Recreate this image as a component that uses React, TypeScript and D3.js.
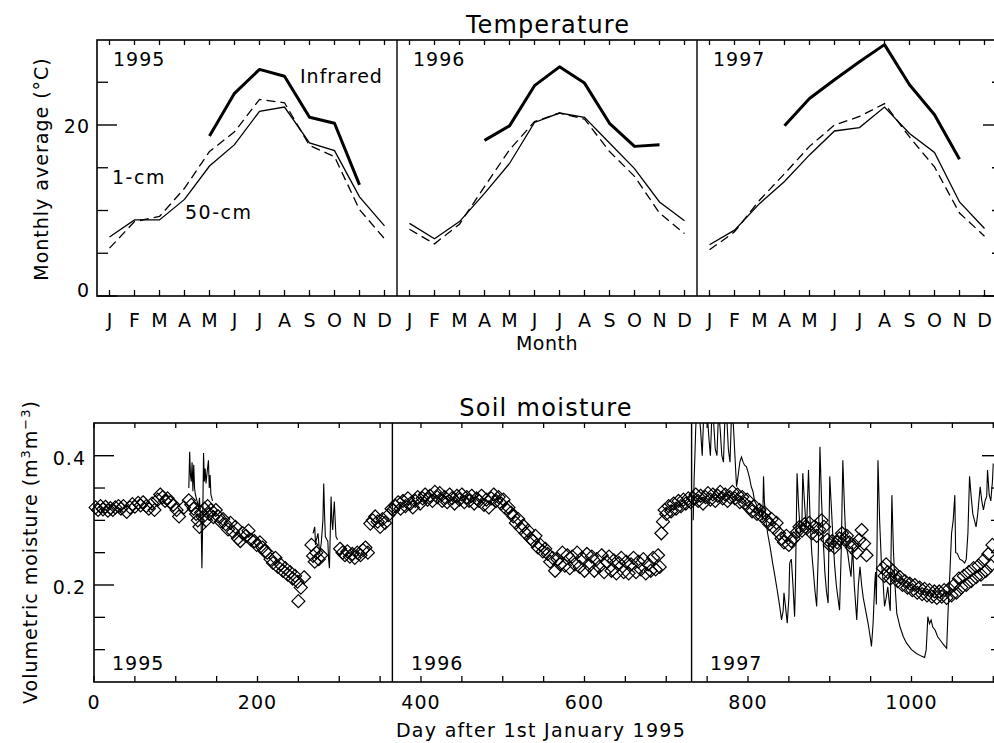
import React from 'react';
import * as d3 from 'd3';

// ---------- Temperature data (monthly averages, °C) ----------
const months = ['J', 'F', 'M', 'A', 'M', 'J', 'J', 'A', 'S', 'O', 'N', 'D'];
const years = ['1995', '1996', '1997'];

const temp50cm: (number | null)[] = [
  6.9, 8.9, 8.9, 11.3, 15.2, 17.7, 21.6, 22.1, 17.9, 17.0, 11.6, 8.2,
  8.5, 6.7, 8.7, 12.0, 15.5, 20.3, 21.4, 20.9, 17.9, 14.9, 11.0, 8.8,
  6.0, 7.7, 10.8, 13.4, 16.5, 19.3, 19.7, 22.1, 19.0, 16.8, 11.0, 7.9,
];
const temp1cm: (number | null)[] = [
  5.6, 8.7, 9.3, 12.6, 16.9, 19.2, 23.0, 22.6, 17.6, 16.3, 10.1, 6.7,
  7.8, 6.1, 8.4, 12.8, 17.1, 20.4, 21.4, 20.7, 16.9, 14.0, 9.7, 7.3,
  5.4, 7.5, 11.2, 14.3, 17.5, 20.0, 21.0, 22.5, 18.6, 15.1, 9.7, 7.0,
];
const tempInfrared: (number | null)[] = [
  null, null, null, null, 18.7, 23.7, 26.5, 25.7, 20.9, 20.2, 13.0, null,
  null, null, null, 18.2, 19.9, 24.6, 26.8, 24.9, 20.2, 17.5, 17.7, null,
  null, null, null, 19.9, 23.1, 25.3, 27.4, 29.4, 24.7, 21.2, 16.0, null,
];
const tempYMajor = [0, 20];
const tempYMinor = [5, 10, 15, 25];

// ---------- Soil moisture data ----------
const soilDiamonds: [number, number][] = [
  [2,0.320],[5,0.316],[8,0.322],[11,0.317],[14,0.321],[17,0.315],[20,0.319],[23,0.316],[26,0.320],[30,0.322],
  [33,0.318],[36,0.322],[40,0.313],[44,0.320],[47,0.325],[50,0.321],[54,0.327],[57,0.323],[60,0.328],[64,0.322],
  [67,0.318],[71,0.326],[74,0.316],[78,0.332],[81,0.340],[84,0.336],[87,0.330],[90,0.334],[93,0.328],[97,0.324],
  [101,0.316],[104,0.306],[110,0.320],[116,0.331],[119,0.324],[122,0.318],[125,0.310],[127,0.300],[129,0.290],[131,0.312],
  [133,0.305],[135,0.318],[137,0.300],[139,0.322],[141,0.310],[143,0.316],[146,0.305],[149,0.316],[152,0.306],[155,0.298],
  [158,0.302],[161,0.294],[164,0.286],[167,0.296],[170,0.282],[173,0.290],[176,0.272],[179,0.268],[182,0.280],[186,0.276],
  [189,0.284],[192,0.270],[196,0.268],[199,0.262],[203,0.266],[206,0.258],[209,0.252],[212,0.250],[216,0.240],[219,0.234],
  [222,0.242],[225,0.228],[228,0.232],[231,0.222],[234,0.226],[237,0.216],[240,0.220],[243,0.210],[246,0.214],[249,0.205],
  [250,0.175],[253,0.196],[257,0.212],[266,0.262],[268,0.245],[270,0.236],[272,0.250],[275,0.240],[278,0.246],[301,0.256],
  [304,0.250],[307,0.246],[310,0.252],[313,0.244],[316,0.248],[319,0.242],[322,0.250],[326,0.246],[329,0.254],[332,0.258],
  [335,0.250],[338,0.295],[341,0.300],[344,0.306],[347,0.298],[350,0.290],[353,0.302],[356,0.296],[360,0.308],[364,0.318],
  [366,0.316],[369,0.322],[372,0.328],[375,0.318],[378,0.330],[381,0.322],[384,0.334],[387,0.326],[390,0.320],[393,0.330],
  [396,0.336],[399,0.326],[402,0.334],[405,0.340],[408,0.332],[411,0.338],[414,0.330],[417,0.344],[420,0.336],[423,0.342],
  [426,0.330],[429,0.336],[432,0.328],[435,0.340],[438,0.334],[441,0.326],[444,0.338],[447,0.332],[450,0.340],[453,0.328],
  [456,0.336],[459,0.330],[462,0.338],[465,0.326],[468,0.334],[471,0.330],[474,0.338],[477,0.324],[480,0.332],[483,0.320],
  [486,0.334],[489,0.340],[492,0.330],[495,0.336],[498,0.326],[501,0.332],[504,0.318],[507,0.320],[510,0.312],[513,0.306],
  [516,0.296],[519,0.302],[522,0.288],[525,0.292],[528,0.280],[531,0.284],[534,0.272],[537,0.268],[540,0.276],[543,0.258],
  [546,0.262],[549,0.252],[552,0.256],[555,0.248],[558,0.236],[561,0.242],[564,0.222],[567,0.240],[570,0.232],[573,0.250],
  [576,0.230],[579,0.246],[582,0.226],[585,0.244],[588,0.232],[591,0.250],[594,0.228],[597,0.242],[600,0.222],[603,0.248],
  [606,0.230],[609,0.244],[612,0.222],[615,0.240],[618,0.228],[621,0.246],[624,0.220],[627,0.236],[630,0.244],[633,0.222],
  [636,0.238],[639,0.218],[642,0.234],[645,0.242],[648,0.220],[651,0.236],[654,0.218],[657,0.232],[660,0.242],[663,0.220],
  [666,0.236],[669,0.224],[672,0.240],[675,0.218],[678,0.232],[681,0.222],[684,0.242],[687,0.224],[690,0.246],[692,0.228],
  [694,0.280],[696,0.298],[698,0.316],[700,0.310],[703,0.322],[706,0.314],[709,0.326],[712,0.318],[715,0.330],[718,0.322],
  [721,0.332],[724,0.326],[727,0.334],[730,0.328],[733,0.334],[736,0.340],[739,0.330],[742,0.338],[745,0.326],[748,0.336],
  [751,0.342],[754,0.332],[757,0.340],[760,0.330],[763,0.338],[766,0.344],[769,0.334],[772,0.340],[775,0.330],[778,0.336],
  [781,0.344],[784,0.334],[787,0.340],[790,0.328],[793,0.336],[796,0.326],[799,0.332],[802,0.320],[805,0.314],[808,0.322],
  [811,0.310],[814,0.316],[817,0.306],[820,0.312],[823,0.300],[826,0.294],[829,0.302],[832,0.288],[835,0.296],[838,0.280],
  [841,0.272],[844,0.266],[847,0.276],[850,0.262],[853,0.268],[856,0.272],[860,0.282],[863,0.290],[866,0.284],[869,0.294],
  [872,0.288],[875,0.296],[878,0.280],[881,0.290],[884,0.276],[887,0.286],[890,0.300],[893,0.290],[897,0.270],[900,0.262],
  [903,0.268],[906,0.258],[909,0.266],[912,0.272],[915,0.280],[918,0.270],[921,0.276],[924,0.266],[927,0.258],[930,0.262],
  [933,0.250],[936,0.270],[939,0.285],[942,0.264],[945,0.246],[965,0.226],[967,0.214],[969,0.232],[971,0.220],[974,0.210],
  [977,0.222],[980,0.214],[983,0.206],[986,0.212],[989,0.200],[992,0.206],[995,0.196],[998,0.202],[1001,0.192],[1004,0.200],
  [1007,0.188],[1010,0.196],[1013,0.186],[1016,0.194],[1019,0.184],[1022,0.192],[1025,0.182],[1028,0.190],[1031,0.180],[1034,0.190],
  [1037,0.182],[1040,0.192],[1043,0.180],[1046,0.194],[1049,0.184],[1052,0.200],[1055,0.188],[1058,0.210],[1061,0.196],[1064,0.214],
  [1067,0.200],[1070,0.220],[1073,0.206],[1076,0.226],[1079,0.212],[1082,0.230],[1085,0.216],[1088,0.238],[1091,0.222],[1094,0.248],
  [1097,0.230],[1099,0.262],
];

const soilLine1995a: [number, number][] = [
  [116,0.350],[117,0.406],[118,0.370],[119,0.360],[120,0.390],[121,0.345],[122,0.386],[123,0.350],[124,0.340],[126,0.330],
  [128,0.320],[129,0.335],[130,0.310],[131,0.300],[132,0.226],[133,0.300],[134,0.404],[135,0.360],[136,0.380],[137,0.357],
  [138,0.370],[140,0.393],[141,0.350],[142,0.370],[143,0.340],[145,0.330],
];
const soilLine1995b: [number, number][] = [
  [268,0.280],[270,0.290],[271,0.262],[272,0.270],[274,0.280],[276,0.249],[278,0.265],[280,0.300],[281,0.357],[282,0.310],
  [283,0.275],[285,0.270],[286,0.268],[287,0.240],[288,0.226],[289,0.280],[290,0.337],[291,0.300],[292,0.285],[293,0.310],
  [294,0.329],[295,0.300],[296,0.275],[298,0.270],
];
const soilLine1997: [number, number][] = [
  [733,0.300],[734,0.360],[735,0.398],[736,0.440],[737,0.470],[740,0.470],[742,0.440],[744,0.400],[746,0.470],[748,0.450],
  [750,0.470],[752,0.430],[754,0.400],[756,0.470],[758,0.450],[760,0.410],[762,0.400],[764,0.470],[766,0.440],[768,0.400],
  [770,0.390],[772,0.470],[774,0.460],[776,0.410],[778,0.390],[780,0.470],[782,0.450],[784,0.400],[786,0.352],[788,0.370],
  [790,0.390],[792,0.398],[794,0.390],[796,0.385],[798,0.383],[800,0.375],[802,0.365],[804,0.352],[806,0.345],[808,0.330],
  [810,0.325],[812,0.316],[814,0.310],[816,0.320],[818,0.300],[819,0.368],[820,0.330],[822,0.300],[824,0.280],[827,0.259],
  [830,0.235],[833,0.213],[836,0.190],[839,0.165],[841,0.146],[843,0.160],[844,0.188],[846,0.165],[848,0.141],[850,0.180],
  [851,0.234],[853,0.240],[855,0.200],[857,0.151],[858,0.200],[860,0.373],[862,0.320],[864,0.280],[866,0.300],[867,0.373],
  [869,0.330],[871,0.290],[872,0.300],[874,0.378],[876,0.300],[878,0.250],[880,0.220],[882,0.190],[884,0.167],[886,0.250],
  [888,0.414],[890,0.330],[892,0.270],[894,0.220],[896,0.190],[898,0.172],[900,0.368],[902,0.320],[904,0.270],[906,0.230],
  [908,0.200],[910,0.180],[912,0.161],[914,0.250],[916,0.393],[918,0.320],[920,0.260],[922,0.249],[924,0.230],[926,0.213],
  [928,0.259],[930,0.200],[933,0.146],[935,0.200],[937,0.228],[939,0.200],[941,0.180],[944,0.160],[947,0.140],[950,0.115],
  [951,0.105],[953,0.140],[955,0.200],[956,0.220],[957,0.170],[959,0.393],[961,0.300],[963,0.239],[965,0.210],[967,0.167],
  [969,0.180],[971,0.197],[973,0.170],[974,0.160],[976,0.339],[978,0.250],[980,0.197],[982,0.156],[986,0.135],[990,0.120],
  [994,0.110],[1000,0.100],[1006,0.094],[1012,0.090],[1016,0.088],[1018,0.100],[1020,0.151],[1022,0.140],[1024,0.146],[1026,0.135],
  [1029,0.130],[1032,0.120],[1035,0.115],[1039,0.108],[1043,0.102],[1045,0.167],[1047,0.220],[1049,0.280],[1051,0.300],[1053,0.339],
  [1054,0.250],[1056,0.249],[1059,0.240],[1062,0.238],[1065,0.234],[1067,0.240],[1069,0.280],[1071,0.368],[1073,0.337],[1075,0.310],
  [1077,0.300],[1079,0.290],[1081,0.310],[1084,0.352],[1086,0.330],[1088,0.316],[1090,0.330],[1092,0.337],[1093,0.378],[1095,0.340],
  [1097,0.330],[1099,0.360],[1100,0.388],
];
const soilYMajor = [0.2, 0.4];
const soilYMinor = [0.1, 0.15, 0.25, 0.3, 0.35];
const dayTickLabels = [0, 200, 400, 600, 800, 1000];
const dayTicksAll = [0,50,100,150,200,250,300,350,400,450,500,550,600,650,700,750,800,850,900,950,1000,1050,1100];
const yearStartDays = [365, 731];

const FONT = '"DejaVu Sans", sans-serif';

export default function App() {
  // Top panel geometry
  const tL = 97, tR = 1003, tT = 40, tB = 296;
  const xM = d3.scaleLinear().domain([0, 36]).range([97, 997]);
  const yT = d3.scaleLinear().domain([0, 30]).range([tB, 39.5]);

  // Bottom panel geometry
  const bL = 94, bR = 1002, bT = 423, bB = 682;
  const xD = d3.scaleLinear().domain([0, 1100]).range([94, 993.25]);
  const yS = d3.scaleLinear().domain([0.2, 0.4]).range([585, 455.7]);

  // one path per year: lines break at the year dividers
  const yearPath = (series: (number | null)[], k: number) =>
    d3.line<number | null>()
      .defined((d) => d !== null)
      .x((_, i) => xM(k * 12 + i + 0.5))
      .y((d) => yT(d as number))(series.slice(k * 12, k * 12 + 12)) || '';

  const soilLine = d3.line<[number, number]>()
    .x((d) => xD(d[0]))
    .y((d) => yS(d[1]));

  const txt = { fontFamily: FONT, fill: '#000' } as const;

  return (
    <svg
      width={994}
      height={743}
      style={{ position: 'absolute', left: 0, top: 0, background: '#fff' }}
    >
      <rect x={0} y={0} width={994} height={743} fill="#fff" />
      <defs>
        <clipPath id="clipSoil">
          <rect x={bL} y={bT} width={bR - bL} height={bB - bT} />
        </clipPath>
      </defs>

      {/* ================= TOP PANEL ================= */}
      <text x={548} y={33} textAnchor="middle" fontSize={24} letterSpacing={1.1} {...txt}>Temperature</text>
      <rect x={tL} y={tT} width={tR - tL} height={tB - tT} fill="none" stroke="#000" strokeWidth={1.6} />
      {[1, 2].map((k) => (
        <line key={k} x1={xM(k * 12)} x2={xM(k * 12)} y1={tT} y2={tB} stroke="#000" strokeWidth={1.4} />
      ))}
      {d3.range(36).map((i) => (
        <g key={i}>
          <line x1={xM(i + 0.5)} x2={xM(i + 0.5)} y1={tB} y2={tB - 6} stroke="#000" strokeWidth={1.3} />
          <line x1={xM(i + 0.5)} x2={xM(i + 0.5)} y1={tT} y2={tT + 5} stroke="#000" strokeWidth={1.3} />
          <text x={xM(i + 0.5)} y={327} textAnchor="middle" fontSize={19} {...txt}>{months[i % 12]}</text>
        </g>
      ))}
      {tempYMajor.map((v) => (
        <g key={v}>
          <line x1={tL} x2={tL + 20} y1={yT(v)} y2={yT(v)} stroke="#000" strokeWidth={1.4} />
          <line x1={tR} x2={tR - 20} y1={yT(v)} y2={yT(v)} stroke="#000" strokeWidth={1.4} />
          <text x={90} y={v === 0 ? yT(v) + 1 : yT(v) + 8} textAnchor="end" fontSize={19} letterSpacing={1} {...txt}>{v}</text>
        </g>
      ))}
      {tempYMinor.map((v) => (
        <g key={v}>
          <line x1={tL} x2={tL + 11} y1={yT(v)} y2={yT(v)} stroke="#000" strokeWidth={1.3} />
          <line x1={tR} x2={tR - 11} y1={yT(v)} y2={yT(v)} stroke="#000" strokeWidth={1.3} />
        </g>
      ))}
      <text transform="translate(48,169) rotate(-90)" textAnchor="middle" fontSize={19} letterSpacing={1} {...txt}>
        Monthly average (°C)
      </text>
      <text x={547} y={350} textAnchor="middle" fontSize={19} letterSpacing={0.5} {...txt}>Month</text>

      {years.map((y, k) => (
        <g key={y}>
          <path d={yearPath(temp50cm, k)} fill="none" stroke="#000" strokeWidth={1.3} />
          <path d={yearPath(temp1cm, k)} fill="none" stroke="#000" strokeWidth={1.3} strokeDasharray="9,5" />
          <path d={yearPath(tempInfrared, k)} fill="none" stroke="#000" strokeWidth={3} strokeLinejoin="round" />
          <text x={113 + 300 * k} y={66} fontSize={19} letterSpacing={1} {...txt}>{y}</text>
        </g>
      ))}
      <text x={300} y={83} fontSize={19} letterSpacing={1} {...txt}>Infrared</text>
      <text x={112} y={184} fontSize={19} letterSpacing={1.5} {...txt}>1-cm</text>
      <text x={185} y={219} fontSize={19} letterSpacing={1.5} {...txt}>50-cm</text>

      {/* ================= BOTTOM PANEL ================= */}
      <text x={546} y={416} textAnchor="middle" fontSize={24} letterSpacing={1.3} {...txt}>Soil moisture</text>
      <rect x={bL} y={bT} width={bR - bL} height={bB - bT} fill="none" stroke="#000" strokeWidth={1.6} />
      {yearStartDays.map((d) => (
        <line key={d} x1={xD(d)} x2={xD(d)} y1={bT} y2={bB} stroke="#000" strokeWidth={1.4} />
      ))}
      {dayTicksAll.map((d) => (
        <g key={d}>
          <line x1={xD(d)} x2={xD(d)} y1={bB} y2={bB - 6} stroke="#000" strokeWidth={1.3} />
          <line x1={xD(d)} x2={xD(d)} y1={bT} y2={bT + 5} stroke="#000" strokeWidth={1.3} />
        </g>
      ))}
      {dayTickLabels.map((d) => (
        <text key={d} x={xD(d)} y={709} textAnchor="middle" fontSize={19} letterSpacing={1} {...txt}>{d}</text>
      ))}
      {soilYMajor.map((v) => (
        <g key={v}>
          <line x1={bL} x2={bL + 20} y1={yS(v)} y2={yS(v)} stroke="#000" strokeWidth={1.4} />
          <line x1={bR} x2={bR - 20} y1={yS(v)} y2={yS(v)} stroke="#000" strokeWidth={1.4} />
          <text x={86} y={yS(v) + 9} textAnchor="end" fontSize={19} letterSpacing={1} {...txt}>{v.toFixed(1)}</text>
        </g>
      ))}
      {soilYMinor.map((v) => (
        <g key={v}>
          <line x1={bL} x2={bL + 11} y1={yS(v)} y2={yS(v)} stroke="#000" strokeWidth={1.3} />
          <line x1={bR} x2={bR - 11} y1={yS(v)} y2={yS(v)} stroke="#000" strokeWidth={1.3} />
        </g>
      ))}
      <text transform="translate(37,552) rotate(-90)" textAnchor="middle" fontSize={19} letterSpacing={1} {...txt}>
        Volumetric moisture (m<tspan dy={-7} fontSize={13}>3</tspan><tspan dy={7}>m</tspan><tspan dy={-7} fontSize={13}>−3</tspan><tspan dy={7}>)</tspan>
      </text>
      <text x={541} y={737} textAnchor="middle" fontSize={19} letterSpacing={1.3} {...txt}>Day after 1st January 1995</text>

      <g clipPath="url(#clipSoil)">
        {[soilLine1995a, soilLine1995b, soilLine1997].map((seg, i) => (
          <path key={i} d={soilLine(seg) || ''} fill="none" stroke="#000" strokeWidth={1.1} />
        ))}
      </g>
      {soilDiamonds.map((d, i) => (
        <path
          key={i}
          transform={`translate(${xD(d[0])},${yS(d[1])})`}
          d="M0,-6.5L6.5,0L0,6.5L-6.5,0Z"
          fill="none"
          stroke="#000"
          strokeWidth={1.2}
        />
      ))}
      {years.map((y, k) => (
        <text key={y} x={112 + 299 * k} y={670} fontSize={19} letterSpacing={1} {...txt}>{y}</text>
      ))}
    </svg>
  );
}
